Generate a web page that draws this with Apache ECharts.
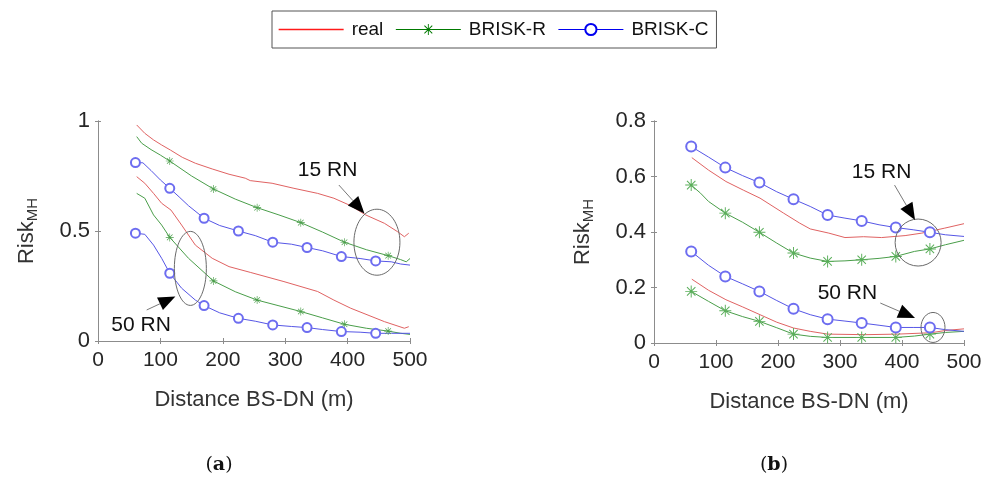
<!DOCTYPE html>
<html><head><meta charset="utf-8">
<script src="https://cdn.jsdelivr.net/npm/echarts@6/dist/echarts.min.js"></script>
<style>html,body{margin:0;padding:0;background:#fff}#c{width:985px;height:480px}</style>
</head><body><div id="c"></div>
<script>
// ---------------- panel (a) ----------------
const a15RealX = [62, 75, 89, 102, 116, 135, 156, 183, 210, 236, 244, 279, 314, 352, 378, 405, 429, 459, 480, 491, 498];
const a15RealY = [0.982,0.944,0.914,0.891,0.868,0.835,0.808,0.782,0.758,0.740,0.729,0.717,0.694,0.671,0.649,0.615,0.573,0.535,0.497,0.474,0.490];
const a15RX = [62, 70, 85, 100, 115, 150, 185, 220, 255, 290, 325, 360, 395, 430, 465, 485, 494, 500];
const a15RY = [0.929,0.899,0.870,0.845,0.818,0.750,0.691,0.645,0.606,0.573,0.538,0.495,0.449,0.415,0.388,0.370,0.360,0.375];
const a15CX = [60, 72, 85, 100, 115, 130, 145, 170, 195, 225, 252, 280, 310, 335, 360, 390, 420, 445, 470, 485, 500];
const a15CY = [0.811,0.810,0.775,0.732,0.694,0.655,0.615,0.558,0.525,0.500,0.479,0.449,0.440,0.425,0.410,0.384,0.375,0.364,0.360,0.350,0.345];
const a50RealX = [62, 75, 89, 102, 117, 134, 156, 183, 210, 244, 298, 352, 378, 405, 459, 491, 498];
const a50RealY = [0.747,0.717,0.671,0.626,0.595,0.527,0.436,0.376,0.338,0.312,0.270,0.225,0.186,0.149,0.088,0.058,0.065];
const a50RX = [62, 75, 89, 102, 115, 145, 185, 220, 255, 290, 325, 360, 395, 430, 465, 485, 500];
const a50RY = [0.671,0.649,0.573,0.527,0.471,0.376,0.273,0.224,0.186,0.160,0.134,0.105,0.076,0.058,0.045,0.035,0.030];
const a50CX = [60, 75, 89, 102, 115, 134, 156, 170, 195, 225, 252, 280, 310, 335, 360, 390, 420, 445, 470, 500];
const a50CY = [0.490,0.485,0.436,0.376,0.308,0.240,0.186,0.161,0.128,0.103,0.090,0.073,0.066,0.061,0.052,0.043,0.040,0.035,0.035,0.035];
// ---------------- panel (b) ----------------
const b15RealX = [61, 88, 116, 144, 171, 209, 235, 252, 282, 308, 338, 367, 405, 432, 469, 500];
const b15RealY = [0.668,0.623,0.582,0.551,0.522,0.468,0.432,0.411,0.396,0.380,0.383,0.380,0.387,0.396,0.414,0.430];
const b15RX = [60, 75, 88, 115, 143, 170, 198, 225, 252, 280, 308, 335, 363, 390, 420, 445, 470, 500];
const b15RY = [0.569,0.540,0.510,0.468,0.435,0.399,0.360,0.324,0.306,0.294,0.296,0.300,0.305,0.312,0.330,0.339,0.354,0.370];
const b15CX = [60, 88, 115, 143, 170, 198, 225, 252, 280, 308, 335, 363, 390, 418, 445, 470, 500];
const b15CY = [0.708,0.670,0.632,0.603,0.578,0.545,0.518,0.492,0.461,0.450,0.440,0.426,0.416,0.408,0.399,0.390,0.384];
const b50RealX = [61, 88, 116, 143, 171, 198, 225, 252, 280, 340, 393, 447, 470, 500];
const b50RealY = [0.230,0.190,0.156,0.130,0.102,0.075,0.054,0.042,0.032,0.030,0.032,0.037,0.045,0.051];
const b50RX = [60, 88, 115, 143, 170, 198, 225, 252, 280, 335, 390, 420, 445, 470, 500];
const b50RY = [0.186,0.150,0.116,0.095,0.078,0.055,0.032,0.024,0.020,0.020,0.020,0.025,0.032,0.038,0.042];
const b50CX = [60, 88, 115, 143, 170, 198, 225, 252, 280, 308, 335, 363, 390, 418, 445, 470, 500];
const b50CY = [0.330,0.280,0.240,0.213,0.186,0.153,0.123,0.102,0.086,0.079,0.072,0.064,0.056,0.056,0.056,0.048,0.042];
// marker positions (x)
const aMarkR = [115, 185, 255, 325, 395, 465];
const markC = [60, 115, 170, 225, 280, 335, 390, 445];
const bMarkR = [60, 115, 170, 225, 280, 335, 390, 445];
// axes
const xTicksMax = 500, xInterval = 100;
const aYMax = 1, aYInterval = 0.5;
const bYMax = 0.8, bYInterval = 0.2;
const legendNames = ['real', 'BRISK-R', 'BRISK-C'];

const FONT = '"Liberation Sans", Arial, sans-serif';
const TXT = '#262626';
const AX = '#8c8c8c';
const C_RED = '#e06262', C_GRN = '#4a9e4a', C_BLU = '#5656e6';
const STAR = 'path://M9.2 0L10.8 0L10.8 20L9.2 20ZM0 9.2L20 9.2L20 10.8L0 10.8ZM2.4 3.6L3.6 2.4L17.6 16.4L16.4 17.6ZM2.4 16.4L16.4 2.4L17.6 3.6L3.6 17.6Z';

function mk(name, g, xs, ys, marks, sym, size, color, mcolor) {
  return {
    type: 'line', name: name, xAxisIndex: g * 2, yAxisIndex: g * 2,
    data: xs.map((x, i) => (marks && marks.indexOf(x) >= 0) ? [x, ys[i]] : { value: [x, ys[i]], symbol: 'none' }),
    symbol: sym || 'none', symbolSize: size || 8, showSymbol: true,
    lineStyle: { width: 1, color: color },
    itemStyle: { color: mcolor || color, borderWidth: 0.9 },
    emphasis: { disabled: true }, silent: true, z: 3
  };
}

function axesFor(g, yMax, yInt) {
  const tick = { show: true, inside: true, length: 3, lineStyle: { color: AX } };
  const line = { show: true, lineStyle: { color: AX, width: 1 } };
  const xs = [
    { type: 'value', gridIndex: g, min: 0, max: xTicksMax, interval: xInterval, position: 'bottom',
      axisLine: line, axisTick: tick, splitLine: { show: false },
      axisLabel: { color: TXT, fontSize: 21, fontFamily: FONT, margin: 9 },
      name: 'Distance BS-DN (m)', nameLocation: 'middle', nameGap: 48,
      nameTextStyle: { color: '#333', fontSize: 22, fontFamily: FONT } },
    { type: 'value', gridIndex: g, min: 0, max: xTicksMax, interval: xInterval, position: 'top',
      axisLine: line, axisTick: tick, splitLine: { show: false }, axisLabel: { show: false } }
  ];
  const ys = [
    { type: 'value', gridIndex: g, min: 0, max: yMax, interval: yInt, position: 'left',
      axisLine: line, axisTick: tick, splitLine: { show: false },
      axisLabel: { color: TXT, fontSize: 22, fontFamily: FONT, margin: 8 },
      name: '{a|Risk}{b|MH}', nameLocation: 'middle', nameGap: 58,
      nameTextStyle: { color: '#333', fontFamily: FONT,
        rich: { a: { fontSize: 22, fontFamily: FONT, color: '#333' },
                b: { fontSize: 15, fontFamily: FONT, color: '#333', padding: [11, 0, 0, 0] } } } },
    { type: 'value', gridIndex: g, min: 0, max: yMax, interval: yInt, position: 'right',
      axisLine: line, axisTick: tick, splitLine: { show: false }, axisLabel: { show: false } }
  ];
  return { xs, ys };
}

const A = axesFor(0, aYMax, aYInterval);
const B = axesFor(1, bYMax, bYInterval);

const series = [
  mk('real', 0, a15RealX, a15RealY, null, 'none', 0, C_RED),
  mk('BRISK-R', 0, a15RX, a15RY, aMarkR, STAR, 8, C_GRN),
  mk('BRISK-C', 0, a15CX, a15CY, markC, 'emptyCircle', 9, C_BLU, '#6d6df0'),
  mk('real', 0, a50RealX, a50RealY, null, 'none', 0, C_RED),
  mk('BRISK-R', 0, a50RX, a50RY, aMarkR, STAR, 8, C_GRN),
  mk('BRISK-C', 0, a50CX, a50CY, markC, 'emptyCircle', 9, C_BLU, '#6d6df0'),
  mk('real', 1, b15RealX, b15RealY, null, 'none', 0, C_RED),
  mk('BRISK-R', 1, b15RX, b15RY, bMarkR, STAR, 12, C_GRN, '#5aae5a'),
  mk('BRISK-C', 1, b15CX, b15CY, markC, 'emptyCircle', 10, C_BLU, '#6d6df0'),
  mk('real', 1, b50RealX, b50RealY, null, 'none', 0, C_RED),
  mk('BRISK-R', 1, b50RX, b50RY, bMarkR, STAR, 12, C_GRN, '#5aae5a'),
  mk('BRISK-C', 1, b50CX, b50CY, markC, 'emptyCircle', 10, C_BLU, '#6d6df0')
];

const chart = echarts.init(document.getElementById('c'), null, { renderer: 'canvas' });
chart.setOption({
  animation: false,
  backgroundColor: '#fff',
  grid: [
    { left: 98, top: 121, width: 312, height: 220, containLabel: false },
    { left: 654, top: 121, width: 310, height: 222, containLabel: false }
  ],
  xAxis: A.xs.concat(B.xs),
  yAxis: A.ys.concat(B.ys),
  legend: {
    left: 272, top: 11, orient: 'horizontal',
    padding: [9, 8, 9, 6], itemWidth: 65, itemHeight: 14, itemGap: 12,
    borderColor: '#555', borderWidth: 1, backgroundColor: '#fff',
    selectedMode: false,
    textStyle: { color: '#111', fontSize: 19, fontFamily: FONT, padding: [0, 0, 0, 3] },
    data: [
      { name: legendNames[0], itemStyle: { color: 'rgba(255,255,255,0)', borderColor: 'rgba(255,255,255,0)', borderWidth: 0 },
        lineStyle: { color: '#ff1a1a', width: 1.3, opacity: 1 } },
      { name: legendNames[1], itemStyle: { color: '#007a00' }, lineStyle: { color: '#007a00', width: 1 } },
      { name: legendNames[2], itemStyle: { color: '#0000f0', borderWidth: 1.5 }, lineStyle: { color: '#0000f0', width: 1 } }
    ]
  },
  series: series
});

// ---------------- annotations ----------------
const notes = [
  { g: 0, label: '15 RN', text: [368, 0.776], from: [386, 0.709], tip: [427, 0.580], ell: [447, 0.449], rx: 23, ry: 33 },
  { g: 0, label: '50 RN', text: [69, 0.072], from: [78, 0.141], tip: [124, 0.202], ell: [148, 0.33], rx: 16, ry: 37 },
  { g: 1, label: '15 RN', text: [367, 0.617], from: [388, 0.569], tip: [421, 0.443], ell: [426, 0.362], rx: 23, ry: 23.5 },
  { g: 1, label: '50 RN', text: [312, 0.18], from: [365, 0.144], tip: [421, 0.09], ell: [450, 0.056], rx: 12, ry: 15 }
];
const gfx = [];
notes.forEach(n => {
  const f = { xAxisIndex: n.g * 2, yAxisIndex: n.g * 2 };
  const pT = chart.convertToPixel(f, n.text);
  const pF = chart.convertToPixel(f, n.from);
  const pTip = chart.convertToPixel(f, n.tip);
  const pE = chart.convertToPixel(f, n.ell);
  gfx.push({ type: 'text', x: pT[0], y: pT[1], z: 10,
    style: { text: n.label, fontSize: 21, fontFamily: FONT, fill: '#111',
      align: 'center', verticalAlign: 'middle', textAlign: 'center', textVerticalAlign: 'middle' } });
  gfx.push({ type: 'ellipse', z: 10, shape: { cx: pE[0], cy: pE[1], rx: n.rx, ry: n.ry },
    style: { fill: 'none', stroke: '#6a6a6a', lineWidth: 1 } });
  const dx = pTip[0] - pF[0], dy = pTip[1] - pF[1];
  const len = Math.sqrt(dx * dx + dy * dy), ux = dx / len, uy = dy / len;
  const L = 17, W = 7;
  const bx = pTip[0] - ux * L, by = pTip[1] - uy * L;
  gfx.push({ type: 'line', z: 10, shape: { x1: pF[0], y1: pF[1], x2: bx, y2: by },
    style: { stroke: '#555', lineWidth: 0.8 } });
  gfx.push({ type: 'polygon', z: 10,
    shape: { points: [[pTip[0], pTip[1]], [bx - uy * W, by + ux * W], [bx + uy * W, by - ux * W]] },
    style: { fill: '#000', stroke: 'none' } });
});
// panel captions
[['a', 219], ['b', 774]].forEach(c => {
  gfx.push({ type: 'text', x: c[1], y: 465, z: 10,
    style: { text: '{p|(}{q|' + c[0] + '}{p|)}', align: 'center', verticalAlign: 'middle',
      textAlign: 'center', textVerticalAlign: 'middle',
      rich: { p: { fontSize: 19, fontFamily: '"DejaVu Serif", serif', fill: '#111', color: '#111' },
              q: { fontSize: 19, fontWeight: 'bold', fontFamily: '"DejaVu Serif", serif', fill: '#111', color: '#111' } } } });
});
chart.setOption({ graphic: gfx });
</script>
</body></html>
